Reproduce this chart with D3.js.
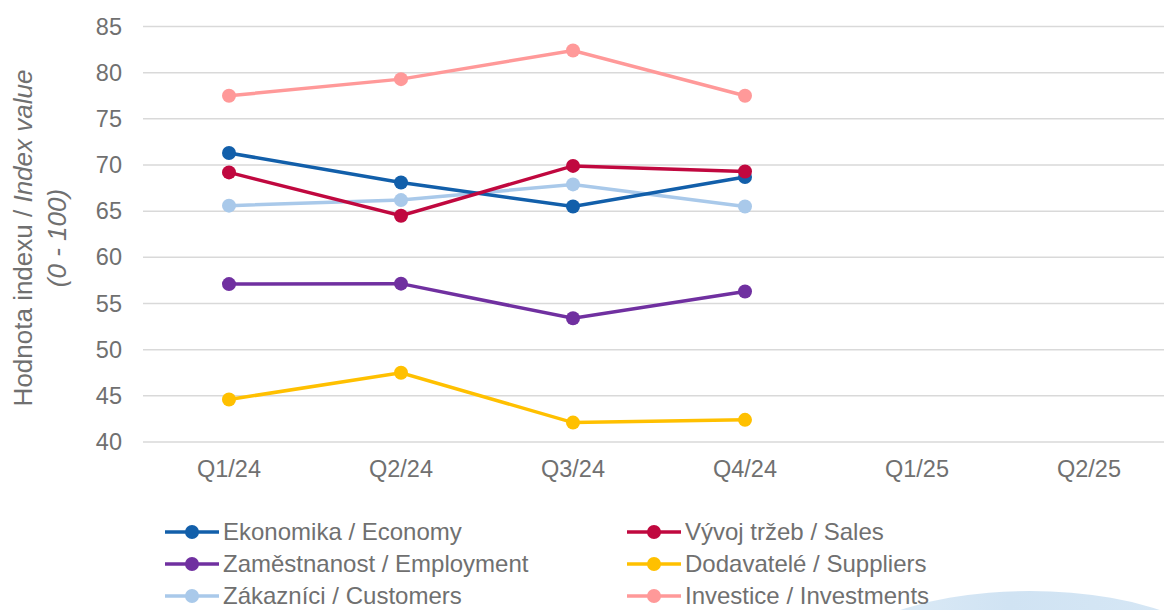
<!DOCTYPE html>
<html>
<head>
<meta charset="utf-8">
<script src="https://cdn.jsdelivr.net/npm/d3@7"></script>
<style>
  html, body { margin: 0; padding: 0; background: white; overflow: hidden; }
  #container { width: 1164px; height: 610px; }
  text { font-family: "Liberation Sans", Arial, sans-serif; }
</style>
</head>
<body>
<div id="container"></div>
<script>
let quarters = ["Q1/24", "Q2/24", "Q3/24", "Q4/24", "Q1/25", "Q2/25"]
let yTicks = [40, 45, 50, 55, 60, 65, 70, 75, 80, 85]

let seriesNames = ["Ekonomika / Economy", "Vývoj tržeb / Sales", "Zaměstnanost / Employment",
    "Dodavatelé / Suppliers", "Zákazníci / Customers", "Investice / Investments"]
let seriesColors = ["#125faa", "#c0083f", "#7030a0", "#ffc000", "#a9c9ea", "#ff9999"]

let economy = [71.3, 68.1, 65.5, 68.7]
let sales = [69.2, 64.5, 69.9, 69.3]
let employment = [57.1, 57.15, 53.4, 56.3]
let suppliers = [44.6, 47.5, 42.1, 42.4]
let customers = [65.6, 66.2, 67.9, 65.5]
let investments = [77.5, 79.3, 82.4, 77.5]

// drawing order: light ones first like the original
let drawOrder = [5, 4, 0, 1, 2, 3]
let allValues = [economy, sales, employment, suppliers, customers, investments]

let width = 1164, height = 610
let fontSize = "23.5px"
let textColor = "#707070"

let svg = d3.select("#container").append("svg")
    .attr("width", width)
    .attr("height", height)

// faint decoration at bottom right
let deco = svg.append("defs").append("linearGradient")
    .attr("id", "decoGrad").attr("x1", 0).attr("x2", 1).attr("y1", 0).attr("y2", 0)
deco.append("stop").attr("offset", "0%").attr("stop-color", "#e2eef8")
deco.append("stop").attr("offset", "45%").attr("stop-color", "#d0e3f3")
deco.append("stop").attr("offset", "85%").attr("stop-color", "#d6e7f5")
deco.append("stop").attr("offset", "100%").attr("stop-color", "#c9dff1")
svg.append("ellipse")
    .attr("cx", 1030).attr("cy", 681)
    .attr("rx", 211).attr("ry", 90)
    .attr("fill", "url(#decoGrad)")

let x = d3.scaleBand().domain(quarters).range([143, 143 + 172 * 6])
let y = d3.scaleLinear().domain([40, 85]).range([442, 26.5])

// gridlines
svg.append("g").selectAll("line").data(yTicks).enter().append("line")
    .attr("x1", 143).attr("x2", width)
    .attr("y1", d => y(d)).attr("y2", d => y(d))
    .attr("stroke", "#d9d9d9").attr("stroke-width", 1.5)

// y axis labels
let yAxis = svg.append("g").attr("transform", "translate(122,0)")
    .call(d3.axisLeft(y).tickValues(yTicks).tickSize(0).tickPadding(0))
yAxis.select(".domain").remove()
yAxis.selectAll("text")
    .attr("fill", textColor)
    .style("font-size", fontSize)
    .style("font-family", "Liberation Sans, Arial, sans-serif")

// x axis labels
let xAxis = svg.append("g").attr("transform", "translate(0,460)")
    .call(d3.axisBottom(x).tickSize(0).tickPadding(0))
xAxis.select(".domain").remove()
xAxis.selectAll("text")
    .attr("fill", textColor)
    .style("font-size", fontSize)
    .style("font-family", "Liberation Sans, Arial, sans-serif")

// y title
let yTitle = svg.append("text")
    .attr("transform", "translate(32,238) rotate(-90)")
    .attr("text-anchor", "middle")
    .attr("fill", textColor)
    .style("font-size", "26px")
yTitle.append("tspan").text("Hodnota indexu / ")
yTitle.append("tspan").attr("font-style", "italic").text("Index value")
svg.append("text")
    .attr("transform", "translate(66,238) rotate(-90)")
    .attr("text-anchor", "middle")
    .attr("fill", textColor)
    .attr("font-style", "italic")
    .style("font-size", "26px")
    .text("(0 - 100)")

let line = d3.line()
    .x((d, i) => x(quarters[i]) + x.bandwidth() / 2)
    .y(d => y(d))

drawOrder.forEach(function(s) {
    let g = svg.append("g")
    g.append("path")
        .attr("d", line(allValues[s]))
        .attr("fill", "none")
        .attr("stroke", seriesColors[s])
        .attr("stroke-width", 3.5)
    g.selectAll("circle").data(allValues[s]).enter().append("circle")
        .attr("cx", (d, i) => x(quarters[i]) + x.bandwidth() / 2)
        .attr("cy", d => y(d))
        .attr("r", 7)
        .attr("fill", seriesColors[s])
})

// legend
let legend = svg.append("g")
let items = legend.selectAll("g").data(seriesNames).enter().append("g")
    .attr("transform", (d, i) => "translate(" + (165 + (i % 2) * 462) + "," + (532 + Math.floor(i / 2) * 32) + ")")
items.append("line")
    .attr("x1", 0).attr("x2", 54)
    .attr("stroke", (d, i) => seriesColors[i])
    .attr("stroke-width", 3.5)
items.append("circle")
    .attr("cx", 27).attr("r", 7)
    .attr("fill", (d, i) => seriesColors[i])
items.append("text")
    .attr("x", 58).attr("dy", "0.35em")
    .attr("fill", textColor)
    .style("font-size", "24px")
    .text(d => d)
</script>
</body>
</html>
